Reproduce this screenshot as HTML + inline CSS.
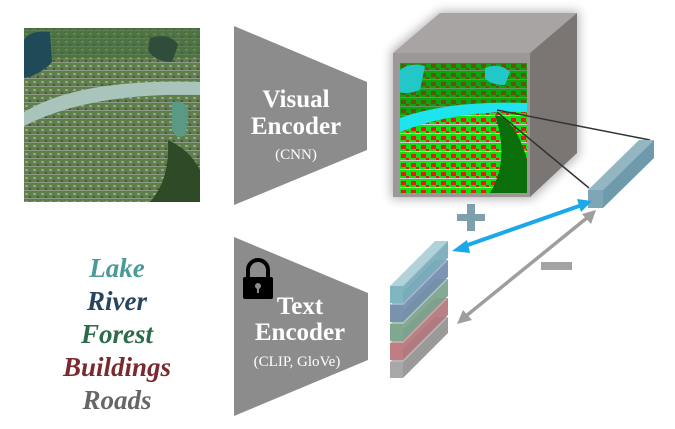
<!DOCTYPE html>
<html><head><meta charset="utf-8"><style>html,body{margin:0;padding:0;background:#fff}svg{display:block}</style></head><body>
<svg width="675" height="429" viewBox="0 0 675 429" xmlns="http://www.w3.org/2000/svg">
<defs>
<filter id="blur" x="-20%" y="-20%" width="140%" height="140%"><feGaussianBlur stdDeviation="5"/></filter>
<pattern id="bld" width="10" height="9" patternUnits="userSpaceOnUse"><rect width="10" height="9" fill="#11e011"/><rect x="1" y="1" width="5" height="4" fill="#e81818"/><rect x="6" y="5" width="3" height="3" fill="#e81818"/><rect x="0" y="7" width="10" height="1" fill="#ccc"/></pattern>
<pattern id="aer" width="8" height="8" patternUnits="userSpaceOnUse"><rect width="8" height="8" fill="#5f7f4a"/><rect x="1" y="1" width="3" height="2" fill="#9a9f95"/><rect x="5" y="4" width="2" height="3" fill="#3c5d2c"/><rect x="0" y="6" width="8" height="1" fill="#8f9a88"/></pattern>
</defs>
<!-- aerial -->
<rect x="24" y="28" width="176" height="174" fill="url(#aer)"/>
<rect x="24" y="28" width="176" height="30" fill="#3f6a3a" opacity="0.6"/>
<path d="M24 40 Q30 30 50 32 L52 62 Q40 75 24 78Z" fill="#1f4a57"/>
<path d="M150 38 Q170 32 178 45 L172 62 Q155 62 148 50Z" fill="#2f4d3a"/>
<path d="M24 112 Q80 78 200 82 L200 95 Q90 92 24 126Z" fill="#a9c4bb"/>
<path d="M172 102 Q185 100 188 110 L186 135 Q176 140 172 130Z" fill="#5a9a85"/>
<path d="M168 140 Q190 150 200 170 L200 202 L150 202 Q170 180 168 140Z" fill="#2e4a26"/>
<!-- visual encoder -->
<polygon points="234,26 367,82 367,150 234,205" fill="#8c8c8c"/>
<g font-family="Liberation Serif, serif" fill="#fff" text-anchor="middle" font-weight="bold">
<text x="296" y="107" font-size="25">Visual</text>
<text x="296" y="134" font-size="25">Encoder</text>
<text x="296" y="159" font-size="15" font-weight="normal">(CNN)</text>
</g>
<!-- text encoder -->
<polygon points="234,237 368,293 368,360 234,416" fill="#8c8c8c"/>
<g font-family="Liberation Serif, serif" fill="#fff" text-anchor="middle" font-weight="bold">
<text x="300" y="314" font-size="25">Text</text>
<text x="300" y="340" font-size="25">Encoder</text>
<text x="297" y="366" font-size="15" font-weight="normal">(CLIP, GloVe)</text>
</g>
<!-- lock -->
<path d="M248 278 V270 a10 10 0 0 1 20 0 V278" fill="none" stroke="#000" stroke-width="4"/>
<rect x="243" y="277" width="30" height="22" rx="2" fill="#000"/>
<circle cx="258" cy="286" r="3" fill="#8c8c8c"/><rect x="257" y="287" width="2" height="6" fill="#8c8c8c"/>
<!-- labels -->
<g font-family="Liberation Serif, serif" font-weight="bold" font-style="italic" font-size="27" text-anchor="middle">
<text x="117" y="277" fill="#4a9a9a">Lake</text>
<text x="117" y="310" fill="#27455e">River</text>
<text x="117" y="343" fill="#2d6a4a">Forest</text>
<text x="117" y="376" fill="#7a2a2e">Buildings</text>
<text x="117" y="409" fill="#666">Roads</text>
</g>
<!-- cube -->
<g filter="url(#blur)" opacity="0.7"><polygon points="391,51 440,11 579,11 579,155 532,199 391,199" fill="#999"/></g>
<polygon points="393,53 440,13 577,13 530,53" fill="#a8a4a3"/>
<polygon points="530,53 577,13 577,153 530,197" fill="#7b7574"/>
<rect x="393" y="53" width="137" height="144" fill="#9c9898"/>
<rect x="400" y="63" width="127" height="130" fill="url(#bld)"/>
<path d="M400 63 H527 V105 Q470 100 400 118Z" fill="#0c7a0c" opacity="0.6"/>
<path d="M400 70 Q410 62 425 66 L420 90 Q405 95 400 92Z" fill="#22c8c8"/>
<path d="M485 68 Q500 62 510 72 L505 85 Q490 85 485 78Z" fill="#22c8c8"/>
<path d="M400 118 Q450 100 527 103 L527 112 Q455 110 400 132Z" fill="#1ee4ee"/>
<path d="M495 115 Q515 118 527 160 L527 193 L490 193 Q510 160 495 115Z" fill="#0a6e0a"/>
<!-- lines to bar -->
<line x1="497" y1="110" x2="650" y2="140" stroke="#333" stroke-width="1.5"/>
<line x1="497" y1="112" x2="589" y2="188" stroke="#333" stroke-width="1.5"/>
<!-- bar -->
<polygon points="588,190 639,140 654,140 603,190" fill="#94b6c3"/>
<polygon points="603,190 654,140 654,158 603,208" fill="#6f9aab"/>
<rect x="588" y="190" width="15" height="18" fill="#7ea6b6"/>
<!-- stack -->
<g>
<polygon points="390,362 435,317 448,317 403,362" fill="#b5b5b5"/><polygon points="403,362 448,317 448,333 403,378" fill="#9a9a9a"/><rect x="390" y="362" width="13" height="16" fill="#a8a8a8"/>
<polygon points="390,343 435,298 448,298 403,343" fill="#c99a9e" opacity="0.9"/><polygon points="403,343 448,298 448,315 403,360" fill="#b07378" opacity="0.9"/><rect x="390" y="343" width="13" height="17" fill="#c07e84"/>
<polygon points="390,324 435,279 448,279 403,324" fill="#9fbfa8" opacity="0.9"/><polygon points="403,324 448,279 448,296 403,341" fill="#77a088" opacity="0.9"/><rect x="390" y="324" width="13" height="17" fill="#80a890"/>
<polygon points="390,305 435,260 448,260 403,305" fill="#98adc8" opacity="0.9"/><polygon points="403,305 448,260 448,277 403,322" fill="#6f8aab" opacity="0.9"/><rect x="390" y="305" width="13" height="17" fill="#7892b0"/>
<polygon points="390,286 435,241 448,241 403,286" fill="#a8cdd4" opacity="0.9"/><polygon points="403,286 448,241 448,258 403,303" fill="#74aab8" opacity="0.9"/><rect x="390" y="286" width="13" height="17" fill="#80b6c2"/>
</g>
<!-- arrows -->
<line x1="462" y1="247" x2="582" y2="205" stroke="#1aa8e8" stroke-width="4"/>
<polygon points="452,251 467,240 470,253" fill="#1aa8e8"/>
<polygon points="592,201 577,199 581,212" fill="#1aa8e8"/>
<line x1="466" y1="316" x2="588" y2="217" stroke="#a09d9d" stroke-width="3.5"/>
<polygon points="457,324 463,310 472,320" fill="#a09d9d"/>
<polygon points="596,210 582,214 591,224" fill="#a09d9d"/>
<!-- plus minus -->
<rect x="457" y="214" width="28" height="7" fill="#7e9fac"/><rect x="467" y="204" width="8" height="27" fill="#7e9fac"/>
<rect x="541" y="262" width="31" height="8" fill="#a3a3a3"/>
</svg>
</body></html>
